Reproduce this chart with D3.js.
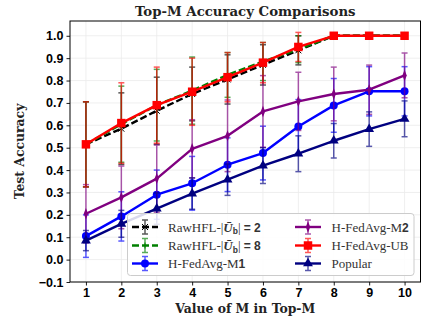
<!DOCTYPE html>
<html>
<head>
<meta charset="utf-8">
<script src="https://cdn.jsdelivr.net/npm/d3@7"></script>
<style>
  html, body { margin: 0; padding: 0; background: #fff; }
  svg { display: block; }
</style>
</head>
<body>
<svg id="chart" width="422" height="322"></svg>
<script>
// ---- data ----
const mValues = [1, 2, 3, 4, 5, 6, 7, 8, 9, 10];
const yTicks = [-0.1, 0.0, 0.1, 0.2, 0.3, 0.4, 0.5, 0.6, 0.7, 0.8, 0.9, 1.0];

const raw2Mean = [0.515, 0.585, 0.665, 0.74, 0.805, 0.87, 0.935, 1.0, 1.0, 1.0];
const raw2Err  = [0.19, 0.16, 0.15, 0.12, 0.11, 0.09, 0.065, 0, 0, 0];
const raw8Mean = [0.515, 0.605, 0.69, 0.755, 0.825, 0.885, 0.94, 1.0, 1.0, 1.0];
const raw8Err  = [0.19, 0.17, 0.16, 0.15, 0.10, 0.085, 0.06, 0, 0, 0];
const m1Mean   = [0.105, 0.193, 0.29, 0.341, 0.424, 0.476, 0.595, 0.689, 0.752, 0.752];
const m1Err    = [0.095, 0.11, 0.11, 0.12, 0.12, 0.12, 0.12, 0.12, 0.11, 0.11];
const m2Mean   = [0.205, 0.278, 0.362, 0.495, 0.553, 0.662, 0.707, 0.74, 0.759, 0.823];
const m2Err    = [0.13, 0.14, 0.15, 0.13, 0.16, 0.16, 0.13, 0.12, 0.11, 0.10];
const ubMean   = [0.515, 0.61, 0.69, 0.75, 0.815, 0.88, 0.95, 1.0, 1.0, 1.0];
const ubErr    = [0.19, 0.18, 0.17, 0.15, 0.11, 0.09, 0.065, 0, 0, 0];
const popMean  = [0.085, 0.16, 0.228, 0.295, 0.357, 0.42, 0.473, 0.531, 0.583, 0.629];
const popErr   = [0.045, 0.06, 0.07, 0.07, 0.07, 0.08, 0.08, 0.077, 0.077, 0.08];

const series = [
  { key: "raw2", mean: raw2Mean, err: raw2Err, color: "#000000", dash: "7,3", marker: "x", legend: ["RawHFL-|", "2"] },
  { key: "raw8", mean: raw8Mean, err: raw8Err, color: "#008000", dash: "7,3", marker: "+", legend: ["RawHFL-|", "8"] },
  { key: "m1",   mean: m1Mean,   err: m1Err,   color: "#0000ff", dash: null,  marker: "circle", legend: ["H-FedAvg-M", "1"] },
  { key: "m2",   mean: m2Mean,   err: m2Err,   color: "#800080", dash: null,  marker: "diamond", legend: ["H-FedAvg-M", "2"] },
  { key: "ub",   mean: ubMean,   err: ubErr,   color: "#ff0000", dash: null,  marker: "square", legend: ["H-FedAvg-UB", null] },
  { key: "pop",  mean: popMean,  err: popErr,  color: "#000080", dash: null,  marker: "triangle", legend: ["Popular", null] }
];

// ---- layout ----
const svg = d3.select("#chart");
const L = 70, R = 420.5, T = 21, B = 282;
const x = d3.scaleLinear().domain([0.55, 10.45]).range([L, R]);
const y = d3.scaleLinear().domain([-0.1, 1.066]).range([B, T]);

// grid
const grid = svg.append("g");
grid.selectAll("line.gx").data(mValues).enter().append("line")
  .attr("x1", d => x(d)).attr("x2", d => x(d)).attr("y1", T).attr("y2", B)
  .attr("stroke", "#ebebeb").attr("stroke-width", 0.8);
grid.selectAll("line.gy").data(yTicks).enter().append("line")
  .attr("x1", L).attr("x2", R).attr("y1", d => y(d)).attr("y2", d => y(d))
  .attr("stroke", "#ebebeb").attr("stroke-width", 0.8);

// axes
const tickFont = "'Liberation Sans', Arial, sans-serif";
const xAxis = d3.axisBottom(x).tickValues(mValues).tickFormat(d3.format("d")).tickSize(3.5).tickPadding(3);
const yAxis = d3.axisLeft(y).tickValues(yTicks).tickFormat(d => d3.format(".1f")(d).replace("-", "\u2212")).tickSize(3.5).tickPadding(3);
const gx = svg.append("g").attr("transform", `translate(0,${B})`).call(xAxis);
const gy = svg.append("g").attr("transform", `translate(${L},0)`).call(yAxis);
[gx, gy].forEach(g => {
  g.select(".domain").remove();
  g.selectAll(".tick line").attr("stroke", "#000").attr("stroke-width", 0.9);
  g.selectAll(".tick text").attr("fill", "#000").style("font-family", tickFont)
    .style("font-weight", "bold").style("font-size", "12.5px");
});

// plotting
const plot = svg.append("g");
function markerPath(type, size) {
  const map = { circle: d3.symbolCircle, square: d3.symbolSquare, triangle: d3.symbolTriangle, diamond: d3.symbolDiamond };
  return d3.symbol().type(map[type]).size(size)();
}
const markerSize = { circle: 50, square: 72, triangle: 42, diamond: 26 };

function drawErrorBars(g, s, px, py, mean, err) {
  const color = s.color;
  const eb = g.append("g").attr("opacity", 0.65);
  mValues.forEach((m, i) => {
    if (err[i] <= 0) return;
    const cx = px(m), y1 = py(mean[i] - err[i]), y2 = py(mean[i] + err[i]);
    eb.append("line").attr("x1", cx).attr("x2", cx).attr("y1", y1).attr("y2", y2)
      .attr("stroke", color).attr("stroke-width", 1.5);
    [y1, y2].forEach(yy => eb.append("line").attr("x1", cx - 3).attr("x2", cx + 3).attr("y1", yy).attr("y2", yy)
      .attr("stroke", color).attr("stroke-width", 1.5));
  });
}

function drawMarker(g, s, cx, cy, scale) {
  scale = scale || 1;
  if (s.marker === "x") {
    const r = 3 * scale;
    g.append("path").attr("d", `M${cx - r},${cy - r}L${cx + r},${cy + r}M${cx - r},${cy + r}L${cx + r},${cy - r}`)
      .attr("stroke", s.color).attr("stroke-width", 1);
  } else if (s.marker === "+") {
    const r = 3 * scale;
    g.append("path").attr("d", `M${cx - r},${cy}L${cx + r},${cy}M${cx},${cy - r}L${cx},${cy + r}`)
      .attr("stroke", s.color).attr("stroke-width", 1);
  } else {
    g.append("path").attr("d", markerPath(s.marker, markerSize[s.marker] * scale))
      .attr("transform", `translate(${cx},${cy})` + (s.marker === "diamond" ? " scale(0.8,1.2)" : ""))
      .attr("fill", s.color);
  }
}

const line = d3.line().x((d, i) => x(mValues[i])).y(d => y(d));
series.forEach(s => {
  const g = plot.append("g");
  drawErrorBars(g, s, x, y, s.mean, s.err);
  g.append("path").datum(s.mean).attr("d", line)
    .attr("fill", "none").attr("stroke", s.color).attr("stroke-width", 2.4)
    .attr("stroke-dasharray", s.dash).attr("stroke-linejoin", "round");
  s.mean.forEach((v, i) => drawMarker(g, s, x(mValues[i]), y(v)));
});

// frame
svg.append("rect").attr("x", L).attr("y", T).attr("width", R - L).attr("height", B - T)
  .attr("fill", "none").attr("stroke", "#000").attr("stroke-width", 1);

// legend
const serif = "'DejaVu Serif', 'Liberation Serif', serif";
const lserif = "'Liberation Serif', 'Times New Roman', serif";
const lg = svg.append("g");
lg.append("rect").attr("x", 127.5).attr("y", 213.5).attr("width", 286.5).attr("height", 62).attr("rx", 3)
  .attr("fill", "rgba(255,255,255,0.85)").attr("stroke", "#cccccc").attr("stroke-width", 1);
const cols = [{ hx: 132, tx: 168 }, { hx: 295, tx: 331.5 }];
const rows = [227, 245.5, 263.5];
series.forEach((s, i) => {
  const c = cols[Math.floor(i / 3)], ry = rows[i % 3];
  const hcx = c.hx + 13;
  const g = lg.append("g");
  g.append("line").attr("x1", c.hx).attr("x2", c.hx + 26).attr("y1", ry).attr("y2", ry)
    .attr("stroke", s.color).attr("stroke-width", 2.4).attr("stroke-dasharray", s.dash);
  const eg = g.append("g").attr("opacity", 0.65);
  eg.append("line").attr("x1", hcx).attr("x2", hcx).attr("y1", ry - 7).attr("y2", ry + 7).attr("stroke", s.color).attr("stroke-width", 1.5);
  [ry - 7, ry + 7].forEach(yy => eg.append("line").attr("x1", hcx - 3).attr("x2", hcx + 3).attr("y1", yy).attr("y2", yy).attr("stroke", s.color).attr("stroke-width", 1.5));
  drawMarker(g, s, hcx, ry);
  const t = g.append("text").attr("x", c.tx).attr("y", ry + 4.5).attr("fill", "#333")
    .style("font-family", lserif).style("font-size", "13px");
  if (s.key === "raw2" || s.key === "raw8") {
    t.append("tspan").text("RawHFL-|");
    t.append("tspan").text("\u016A").style("font-style", "italic").style("font-weight", "bold");
    t.append("tspan").text("b").attr("dy", 2.5).style("font-family", tickFont).style("font-weight", "bold").style("font-size", "8.5px");
    t.append("tspan").text("| ").attr("dy", -2.5);
    t.append("tspan").text("= " + s.legend[1]).style("font-family", tickFont).style("font-weight", "bold").style("font-size", "12px");
  } else {
    t.append("tspan").text(s.legend[0]);
    if (s.legend[1]) t.append("tspan").text(s.legend[1]).style("font-family", tickFont).style("font-weight", "bold").style("font-size", "12px");
  }
});

// titles
svg.append("text").attr("x", (L + R) / 2).attr("y", 16).attr("text-anchor", "middle")
  .style("font-family", serif).style("font-weight", "bold").style("font-size", "13.3px").attr("fill", "#222")
  .text("Top-M Accuracy Comparisons");
svg.append("text").attr("x", (L + R) / 2).attr("y", 313).attr("text-anchor", "middle")
  .style("font-family", serif).style("font-weight", "bold").style("font-size", "12.4px").attr("fill", "#222")
  .text("Value of M in Top-M");
svg.append("text").attr("transform", `translate(24,${(T + B) / 2}) rotate(-90)`).attr("text-anchor", "middle")
  .style("font-family", serif).style("font-weight", "bold").style("font-size", "12.4px").attr("fill", "#222")
  .text("Test Accuracy");
</script>
</body>
</html>
